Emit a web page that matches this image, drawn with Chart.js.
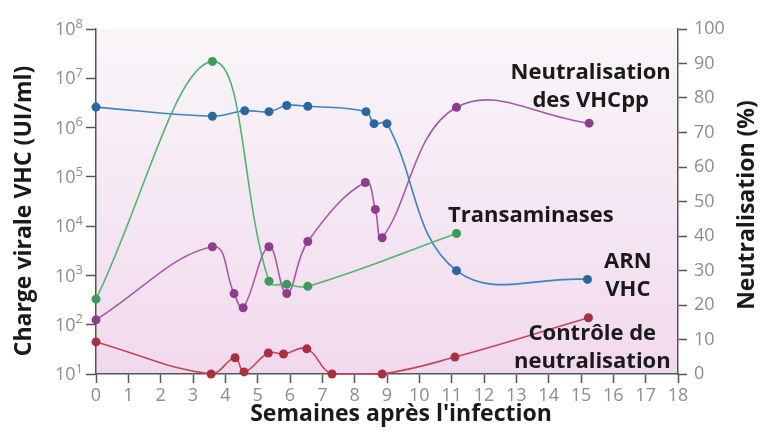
<!DOCTYPE html>
<html lang="fr">
<head>
<meta charset="UTF-8">
<title>Charge virale VHC et neutralisation</title>
<script src="https://cdn.jsdelivr.net/npm/chart.js"></script>
<style>
    body { margin: 0; background: #fff; }
    canvas { display: block; }
</style>
</head>
<body>
<canvas id="vhcChart" width="761" height="437"></canvas>
<script>
// weeks after infection + values for each curve
const weeksARN = [0, 3.6, 4.6, 5.35, 5.9, 6.55, 8.35, 8.6, 9.0, 11.15, 15.2];
const chargeARN = [2.6e6, 1.7e6, 2.2e6, 2.1e6, 2.8e6, 2.7e6, 2.1e6, 1.2e6, 1.2e6, 1250, 830];

const weeksTransa = [0, 3.6, 5.35, 5.9, 6.55, 11.15];
const transaminases = [330, 2.2e7, 760, 660, 600, 7100];

const weeksNeutra = [0, 3.6, 4.27, 4.55, 5.35, 5.9, 6.55, 8.33, 8.64, 8.85, 11.15, 15.25];
const neutraVHCpp = [15.7, 36.9, 23.3, 19.2, 36.9, 23.3, 38.4, 55.5, 47.7, 39.5, 77.3, 72.7];

const weeksControle = [0, 3.56, 4.3, 4.58, 5.33, 5.8, 6.52, 7.3, 8.85, 11.1, 15.23];
const controleNeutra = [9.3, 0, 4.7, 0.6, 6.1, 5.8, 7.3, 0, 0, 4.9, 16.3];

const decades = [1e1, 1e2, 1e3, 1e4, 1e5, 1e6, 1e7, 1e8];
const exponents = ['1', '2', '3', '4', '5', '6', '7', '8'];

// series labels: [text lines, week, % on right axis for first line]
const seriesLabels = [
    { lines: ['Neutralisation', 'des VHCpp'], x: 15.3, y: 87.3 },
    { lines: ['Transaminases'], x: 13.45, y: 46 },
    { lines: ['ARN', 'VHC'], x: 16.45, y: 32.4 },
    { lines: ['Contrôle de', 'neutralisation'], x: 15.35, y: 11.6 }
];

const toPoints = (xs, ys) => xs.map((x, i) => ({ x: x, y: ys[i] }));

const AXIS = '#555';
const TICK_GREY = '#8d8d8d';
const TITLE_FONT = 'bold 23px "Open Sans", sans-serif';
const LABEL_FONT = 'bold 22px "Open Sans", sans-serif';

const plotBackground = {
    id: 'plotBackground',
    beforeDraw(chart) {
        const { ctx, chartArea: a } = chart;
        const g = ctx.createLinearGradient(0, a.top, 0, a.bottom);
        g.addColorStop(0, '#f9f6f9');
        g.addColorStop(1, '#f1d9ed');
        ctx.save();
        ctx.fillStyle = g;
        ctx.fillRect(a.left, a.top, a.right - a.left, a.bottom - a.top);
        ctx.restore();
    }
};

const textLayer = {
    id: 'textLayer',
    afterDraw(chart) {
        const { ctx, scales } = chart;
        ctx.save();

        // powers of ten on the left axis
        ctx.fillStyle = TICK_GREY;
        ctx.textBaseline = 'middle';
        decades.forEach((v, i) => {
            const y = scales.y.getPixelForValue(v);
            ctx.font = '13px "Open Sans", sans-serif';
            const ew = ctx.measureText(exponents[i]).width;
            ctx.textAlign = 'left';
            ctx.fillText(exponents[i], 83 - ew, y - 5);
            ctx.font = '18px "Open Sans", sans-serif';
            ctx.textAlign = 'right';
            ctx.fillText('10', 83 - ew, y + 1);
        });

        // axis titles
        ctx.fillStyle = '#1a1a1a';
        ctx.font = TITLE_FONT;
        ctx.textAlign = 'center';
        ctx.textBaseline = 'middle';
        ctx.fillText('Semaines après l\'infection', 401, 414);

        ctx.save();
        ctx.translate(24, 211);
        ctx.rotate(-Math.PI / 2);
        ctx.fillText('Charge virale VHC (UI/ml)', 0, 0);
        ctx.restore();

        ctx.save();
        ctx.translate(747, 205);
        ctx.rotate(-Math.PI / 2);
        ctx.fillText('Neutralisation (%)', 0, 0);
        ctx.restore();

        // series names inside the plot
        ctx.font = LABEL_FONT;
        seriesLabels.forEach(lb => {
            const x = scales.x.getPixelForValue(lb.x);
            const y0 = scales.y2.getPixelForValue(lb.y);
            lb.lines.forEach((t, k) => ctx.fillText(t, x, y0 + k * 28));
        });
        ctx.restore();
    }
};

const lineStyle = (label, data, axis, line, dot) => ({
    label: label,
    data: data,
    yAxisID: axis,
    borderColor: line,
    borderWidth: 1.6,
    pointBackgroundColor: dot,
    pointBorderColor: dot,
    pointRadius: 4.5,
    pointBorderWidth: 0,
    tension: 0.4,
    clip: false
});

new Chart(document.getElementById('vhcChart'), {
    type: 'line',
    data: {
        datasets: [
            lineStyle('Transaminases', toPoints(weeksTransa, transaminases), 'y', '#52b56e', '#3c9a5a'),
            lineStyle('ARN VHC', toPoints(weeksARN, chargeARN), 'y', '#3a86c0', '#2a66a0'),
            lineStyle('Neutralisation des VHCpp', toPoints(weeksNeutra, neutraVHCpp), 'y2', '#a65aa8', '#8c3d8c'),
            lineStyle('Contrôle de neutralisation', toPoints(weeksControle, controleNeutra), 'y2', '#c4465a', '#a8303f')
        ]
    },
    options: {
        responsive: false,
        animation: false,
        layout: { padding: { top: 29, left: 0, right: 0, bottom: 0 } },
        plugins: { legend: { display: false }, tooltip: { enabled: false } },
        scales: {
            x: {
                type: 'linear',
                min: 0,
                max: 18,
                border: { color: AXIS, width: 1.5 },
                grid: { drawOnChartArea: false, tickLength: 9, tickColor: AXIS, tickWidth: 1.5 },
                ticks: {
                    stepSize: 1,
                    autoSkip: false,
                    maxRotation: 0,
                    padding: 2,
                    color: TICK_GREY,
                    font: { family: '"Open Sans", sans-serif', size: 18 }
                },
                afterFit: s => { s.height = 63; }
            },
            y: {
                type: 'logarithmic',
                position: 'left',
                min: 10,
                max: 1e8,
                border: { color: AXIS, width: 1.5 },
                grid: { drawOnChartArea: false, tickLength: 10, tickColor: AXIS, tickWidth: 1.5 },
                afterBuildTicks: s => { s.ticks = decades.map(v => ({ value: v })); },
                ticks: { autoSkip: false, callback: () => '' },
                afterFit: s => { s.width = 96; }
            },
            y2: {
                type: 'linear',
                position: 'right',
                min: 0,
                max: 100,
                border: { color: AXIS, width: 1.5 },
                grid: { drawOnChartArea: false, tickLength: 9, tickColor: AXIS, tickWidth: 1.5 },
                ticks: {
                    stepSize: 10,
                    autoSkip: false,
                    padding: 7,
                    color: TICK_GREY,
                    font: { family: '"Open Sans", sans-serif', size: 18 }
                },
                afterFit: s => { s.width = 83; }
            }
        }
    },
    plugins: [plotBackground, textLayer]
});
</script>
</body>
</html>
